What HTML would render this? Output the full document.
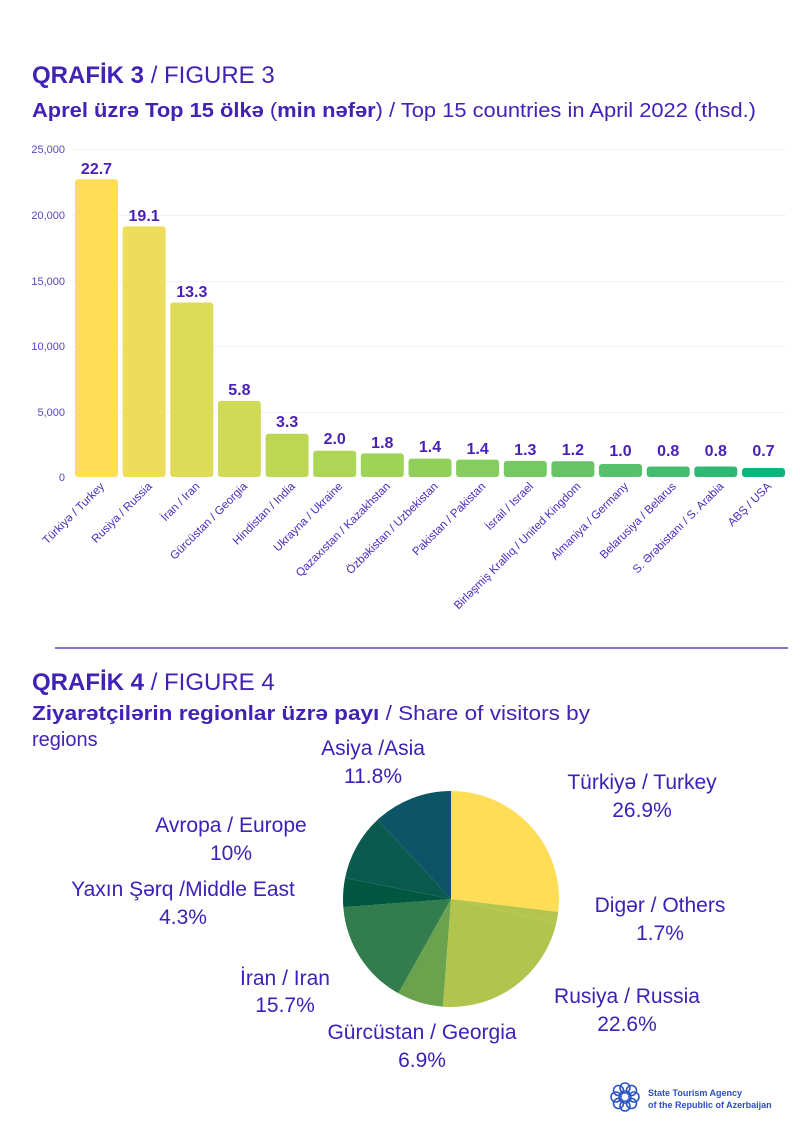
<!DOCTYPE html>
<html><head><meta charset="utf-8"><style>
html,body{margin:0;padding:0;background:#fff}
svg{display:block}
text{font-family:"Liberation Sans","DejaVu Sans",sans-serif}
</style></head><body>
<svg width="800" height="1131" viewBox="0 0 800 1131" xmlns="http://www.w3.org/2000/svg">
<g fill="#4222B5">
<text x="32" y="83" font-size="24" font-weight="bold">QRAFİK 3 <tspan font-weight="normal">/ FIGURE 3</tspan></text>
<text x="32" y="117" font-size="20" textLength="724" lengthAdjust="spacingAndGlyphs"><tspan font-weight="bold">Aprel üzrə Top 15 ölkə</tspan> (<tspan font-weight="bold">min nəfər</tspan>) / Top 15 countries in April 2022 (thsd.)</text>
</g>
<g stroke="#f1f1f6" stroke-width="1">
<line x1="72" y1="149.5" x2="786" y2="149.5"/>
<line x1="72" y1="215.5" x2="786" y2="215.5"/>
<line x1="72" y1="281.5" x2="786" y2="281.5"/>
<line x1="72" y1="346.5" x2="786" y2="346.5"/>
<line x1="72" y1="412.5" x2="786" y2="412.5"/>
</g>
<g fill="#5B45C2" font-size="11" text-anchor="end">
<text x="65" y="153">25,000</text>
<text x="65" y="219">20,000</text>
<text x="65" y="285">15,000</text>
<text x="65" y="350">10,000</text>
<text x="65" y="416">5,000</text>
<text x="65" y="481">0</text>
</g>
<g>
<rect x="75" y="179.2" width="43" height="297.8" rx="3" fill="#FFDD57"/>
<rect x="122.6" y="226.4" width="43" height="250.6" rx="3" fill="#EEDD5A"/>
<rect x="170.3" y="302.5" width="43" height="174.5" rx="3" fill="#DDDB58"/>
<rect x="217.9" y="400.9" width="43" height="76.1" rx="3" fill="#CFDA58"/>
<rect x="265.6" y="433.7" width="43" height="43.3" rx="3" fill="#BDD755"/>
<rect x="313.2" y="450.8" width="43" height="26.2" rx="3" fill="#AED656"/>
<rect x="360.8" y="453.4" width="43" height="23.6" rx="3" fill="#9FD356"/>
<rect x="408.5" y="458.6" width="43" height="18.4" rx="3" fill="#92CF5A"/>
<rect x="456.1" y="459.6" width="43" height="17.4" rx="3" fill="#86CC5E"/>
<rect x="503.8" y="460.9" width="43" height="16.1" rx="3" fill="#76C862"/>
<rect x="551.4" y="461.3" width="43" height="15.7" rx="3" fill="#67C466"/>
<rect x="599" y="464" width="43" height="13" rx="3" fill="#56C06B"/>
<rect x="646.7" y="466.5" width="43" height="10.5" rx="3" fill="#44BB6F"/>
<rect x="694.3" y="466.5" width="43" height="10.5" rx="3" fill="#30B774"/>
<rect x="742" y="468" width="43" height="9" rx="3" fill="#12B27A"/>
</g>
<g fill="#4A1FB8" font-size="16" font-weight="bold" text-anchor="middle">
<text x="96.5" y="174">22.7</text>
<text x="144.1" y="221">19.1</text>
<text x="191.8" y="297">13.3</text>
<text x="239.4" y="395">5.8</text>
<text x="287.1" y="427">3.3</text>
<text x="334.7" y="444">2.0</text>
<text x="382.3" y="448">1.8</text>
<text x="430" y="452">1.4</text>
<text x="477.6" y="454">1.4</text>
<text x="525.3" y="455">1.3</text>
<text x="572.9" y="455">1.2</text>
<text x="620.5" y="456">1.0</text>
<text x="668.2" y="456">0.8</text>
<text x="715.8" y="456">0.8</text>
<text x="763.5" y="456">0.7</text>
</g>
<g fill="#4A2BC0" font-size="11.5" text-anchor="end">
<text transform="translate(105,487) rotate(-45)">Türkiyə / Turkey</text>
<text transform="translate(152.6,487) rotate(-45)">Rusiya / Russia</text>
<text transform="translate(200.3,487) rotate(-45)">İran / Iran</text>
<text transform="translate(247.9,487) rotate(-45)">Gürcüstan / Georgia</text>
<text transform="translate(295.6,487) rotate(-45)">Hindistan / India</text>
<text transform="translate(343.2,487) rotate(-45)">Ukrayna / Ukraine</text>
<text transform="translate(390.8,487) rotate(-45)">Qazaxıstan / Kazakhstan</text>
<text transform="translate(438.5,487) rotate(-45)">Özbəkistan / Uzbekistan</text>
<text transform="translate(486.1,487) rotate(-45)">Pakistan / Pakistan</text>
<text transform="translate(533.8,487) rotate(-45)">İsrail / Israel</text>
<text transform="translate(581.4,487) rotate(-45)">Birləşmiş Krallıq / United Kingdom</text>
<text transform="translate(629,487) rotate(-45)">Almaniya / Germany</text>
<text transform="translate(676.7,487) rotate(-45)">Belarusiya / Belarus</text>
<text transform="translate(724.3,487) rotate(-45)">S. Ərəbistanı / S. Arabia</text>
<text transform="translate(772,487) rotate(-45)">ABŞ / USA</text>
</g>
<line x1="55" y1="648" x2="788" y2="648" stroke="#5B45C2" stroke-width="1.5"/>
<g fill="#4222B5">
<text x="32" y="690" font-size="24" font-weight="bold">QRAFİK 4 <tspan font-weight="normal">/ FIGURE 4</tspan></text>
<text x="32" y="720" font-size="20" textLength="558" lengthAdjust="spacingAndGlyphs"><tspan font-weight="bold">Ziyarətçilərin regionlar üzrə payı</tspan> / Share of visitors by</text>
<text x="32" y="746" font-size="20">regions</text>
</g>
<g>
<path d="M451,899 L451,791 A108,108 0 0 1 558.2,911.9 Z" fill="#FFDD57"/>
<path d="M451,899 L558.2,911.9 A108,108 0 0 1 556.2,923.2 Z" fill="#B4C54E"/>
<path d="M451,899 L556.2,923.2 A108,108 0 0 1 442.9,1006.7 Z" fill="#B0C44E"/>
<path d="M451,899 L442.9,1006.7 A108,108 0 0 1 398.3,993.3 Z" fill="#6BA24E"/>
<path d="M451,899 L398.3,993.3 A108,108 0 0 1 343.3,907.1 Z" fill="#327C4D"/>
<path d="M451,899 L343.3,907.1 A108,108 0 0 1 345.1,878 Z" fill="#00573F"/>
<path d="M451,899 L345.1,878 A108,108 0 0 1 377.6,819.8 Z" fill="#0A5A4E"/>
<path d="M451,899 L377.6,819.8 A108,108 0 0 1 451,791 Z" fill="#0B5566"/>
</g>
<g fill="#3A22B8" font-size="21" text-anchor="middle">
<text x="373" y="755">Asiya /Asia</text><text x="373" y="783">11.8%</text>
<text x="642" y="789">Türkiyə / Turkey</text><text x="642" y="817">26.9%</text>
<text x="231" y="832">Avropa / Europe</text><text x="231" y="860">10%</text>
<text x="183" y="896">Yaxın Şərq /Middle East</text><text x="183" y="924">4.3%</text>
<text x="660" y="912">Digər / Others</text><text x="660" y="940">1.7%</text>
<text x="285" y="985">İran / Iran</text><text x="285" y="1012">15.7%</text>
<text x="627" y="1003">Rusiya / Russia</text><text x="627" y="1031">22.6%</text>
<text x="422" y="1039">Gürcüstan / Georgia</text><text x="422" y="1067">6.9%</text>
</g>
<g fill="none" stroke="#2A55C8" stroke-width="1.6">
<circle cx="625" cy="1097" r="6"/>
<circle cx="625" cy="1088" r="5"/><circle cx="625" cy="1106" r="5"/>
<circle cx="616" cy="1097" r="5"/><circle cx="634" cy="1097" r="5"/>
<circle cx="618.5" cy="1090.5" r="5"/><circle cx="631.5" cy="1090.5" r="5"/>
<circle cx="618.5" cy="1103.5" r="5"/><circle cx="631.5" cy="1103.5" r="5"/>
</g>
<g fill="#2A4FC4" font-size="9" font-weight="bold">
<text x="648" y="1096">State Tourism Agency</text>
<text x="648" y="1108">of the Republic of Azerbaijan</text>
</g>
</svg>
</body></html>
